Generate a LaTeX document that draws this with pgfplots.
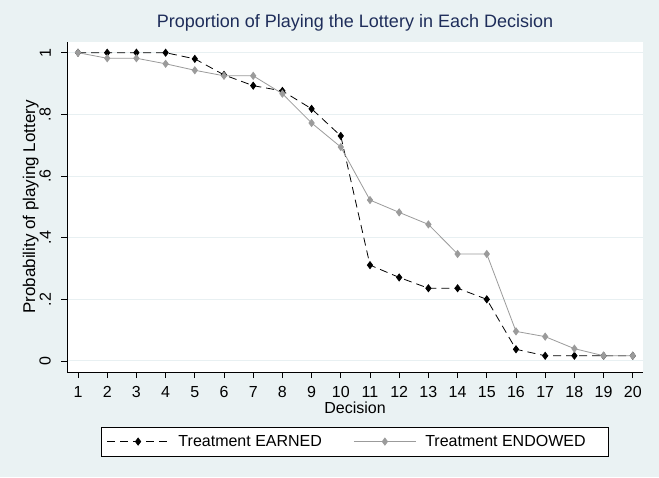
\documentclass[border=0pt]{standalone}
\usepackage{pgfplots}
\pgfplotsset{compat=1.18}
\usepackage{fontspec}
\setmainfont{Liberation Sans}
\definecolor{bgcol}{RGB}{234,242,243}
\definecolor{gridcol}{RGB}{232,240,242}
\definecolor{titlecol}{RGB}{30,45,90}
\definecolor{greyser}{RGB}{155,155,155}
\begin{document}
\begin{tikzpicture}
\fill[bgcol] (0,0) rectangle (659pt,477pt);
\begin{axis}[
  at={(67pt,105pt)}, anchor=south west,
  scale only axis, width=576pt, height=330pt,
  xmin=0.623, xmax=20.35, ymin=-0.0357, ymax=1.0347,
  axis x line*=bottom, axis y line*=left,
  axis line style={line width=1pt, -},
  axis background/.style={fill=white},
  xtick={1,...,20}, ytick={0,0.2,0.4,0.6,0.8,1},
  yticklabels={0,.2,.4,.6,.8,1},
  tick align=outside, major tick length=6pt,
  tick style={black, line width=0.8pt},
  ymajorgrids, grid style={gridcol, line width=1pt},
  /pgf/number format/assume math mode=true,
  tick label style={font=\fontsize{16}{19}\selectfont},
  xticklabel style={anchor=north, inner sep=0pt, yshift=-8pt},
  yticklabel style={xshift=-10pt, rotate=90, anchor=south, inner sep=0pt},
  title={Proportion of Playing the Lottery in Each Decision},
  title style={at={(0.5,1)}, anchor=base, yshift=8pt, inner sep=0pt,
    font=\fontsize{18}{21}\selectfont, text=titlecol},
  xlabel={Decision},
  every axis x label/.style={at={(axis description cs:0.5,0)}, anchor=base, yshift=-41.5pt,
    font=\fontsize{16}{19}\selectfont},
  ylabel={Probability of playing Lottery},
  every axis y label/.style={at={([xshift=-32pt]axis description cs:0,0.5)}, rotate=90, anchor=base,
    font=\fontsize{17}{20}\selectfont},
  legend columns=2,
  legend cell align=left,
  legend style={at={(0.5,0)}, anchor=north, yshift=-54.7pt, draw=black, line width=0.8pt,
    fill=white, font=\fontsize{16}{19}\selectfont, inner xsep=5pt, inner ysep=4pt,
    nodes={inner sep=3pt, text height=12pt, text depth=3pt},
    /tikz/every even column/.append style={column sep=0pt}},
  legend image code/.code={\draw[mark repeat=2,mark phase=2,#1] plot coordinates {(0pt,0pt) (31pt,0pt) (62pt,0pt)};},
]
\addplot[black, line width=0.8pt, dash pattern=on 8pt off 5pt, mark=diamond*, mark size=3.5pt, mark options={solid}]
coordinates {
(1,1.0) (2,1.0) (3,1.0) (4,1.0) (5,0.98) (6,0.928) (7,0.893) (8,0.876) (9,0.818) (10,0.730)
(11,0.311) (12,0.271) (13,0.236) (14,0.236) (15,0.200) (16,0.038) (17,0.017) (18,0.017) (19,0.017) (20,0.017)
};
\addlegendentry{\makebox[178pt][l]{\hspace{6pt}Treatment EARNED}}
\addplot[greyser, line width=0.8pt, mark=diamond*, mark size=3.5pt]
coordinates {
(1,1.0) (2,0.982) (3,0.982) (4,0.964) (5,0.943) (6,0.925) (7,0.925) (8,0.867) (9,0.772) (10,0.694)
(11,0.522) (12,0.482) (13,0.443) (14,0.347) (15,0.347) (16,0.096) (17,0.079) (18,0.040) (19,0.017) (20,0.017)
};
\addlegendentry{\makebox[181pt][l]{\hspace{6pt}Treatment ENDOWED}}
\end{axis}
\end{tikzpicture}
\end{document}
